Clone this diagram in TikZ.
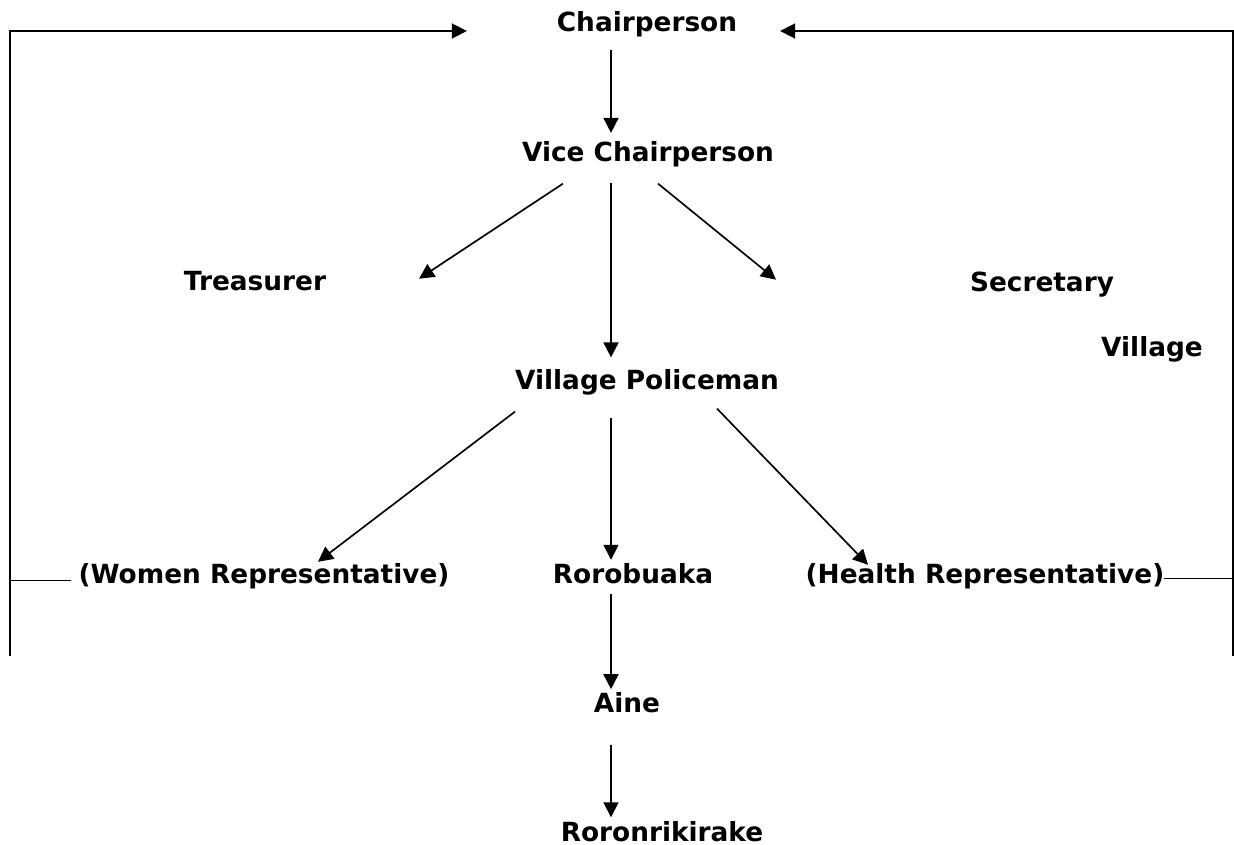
\documentclass[tikz,border=0pt]{standalone}
\usepackage{fontspec}
\setmainfont{DejaVu Sans}
\usetikzlibrary{arrows.meta,calc}
\tikzset{post/.style={font=\fontsize{15}{18}\selectfont\bfseries,inner sep=0pt,outer sep=2.3pt,text height=11.25pt,text depth=3.75pt},
  arr/.style={-{Triangle[length=0.3cm,width=0.3cm]}}}
\begin{document}
\begin{tikzpicture}[x=0.02cm,y=-0.02cm,line width=0.95pt]
\useasboundingbox (0,0) rectangle (1234,845);
\node[post] (chair) at (647,25.4) {Chairperson};
\node[post] (vice) at (648,155.4) {Vice Chairperson};
\node[post] (treas) at (255,284.4) {Treasurer};
\node[post] (secr) at (1042,285.4) {Secretary};
\node[post] (vill) at (1152,350.4) {Village};
\node[post] (police) at (647,383.4) {Village Policeman};
\node[post] (women) at (264,577) {(Women Representative)};
\node[post] (roro) at (633,577) {Rorobuaka};
\node[post] (health) at (985,577) {(Health Representative)};
\node[post] (aine) at (627,706.4) {Aine};
\node[post] (roron) at (662,834.5) {Roronrikirake};
\coordinate (spine) at (611,0);
\coordinate (lbot) at (10,656);
\coordinate (rbot) at (1233,656);
\draw[arr,shorten <=4pt,shorten >=3pt] (chair.south -| spine) -- (vice.north -| spine);
\draw[arr,shorten <=6pt,shorten >=5pt] (vice.south -| spine) -- (police.north -| spine);
\draw[arr,shorten <=10pt] (police.south -| spine) -- (roro.north -| spine);
\draw[arr] (roro.south -| spine) -- (aine.north -| spine);
\draw[arr,shorten <=12pt] (aine.south -| spine) -- (roron.north -| spine);
\draw[arr] ($(vice.south)+(-85,11)$) -- ($(treas.north east)+(89,11.5)$);
\draw[arr] ($(vice.south)+(10,11)$) -- ($(secr.north west)+(-190,11.5)$);
\draw[arr] ($(police.south)+(-132,11)$) -- ($(women.north)+(54,2)$);
\draw[arr] ($(police.south)+(70,8)$) -- ($(health.north)+(-117,5)$);
\draw[arr] (lbot) |- ($(chair.west)+(-86,5.6)$);
\draw[arr] (rbot) |- ($(chair.east)+(39,5.6)$);
\draw ($(women.west)+(-4,3.5)$) coordinate (wfoot) -- (wfoot -| lbot);
\draw ($(health.east)+(-4,1.5)$) coordinate (hfoot) -- (hfoot -| rbot);
\end{tikzpicture}
\end{document}
